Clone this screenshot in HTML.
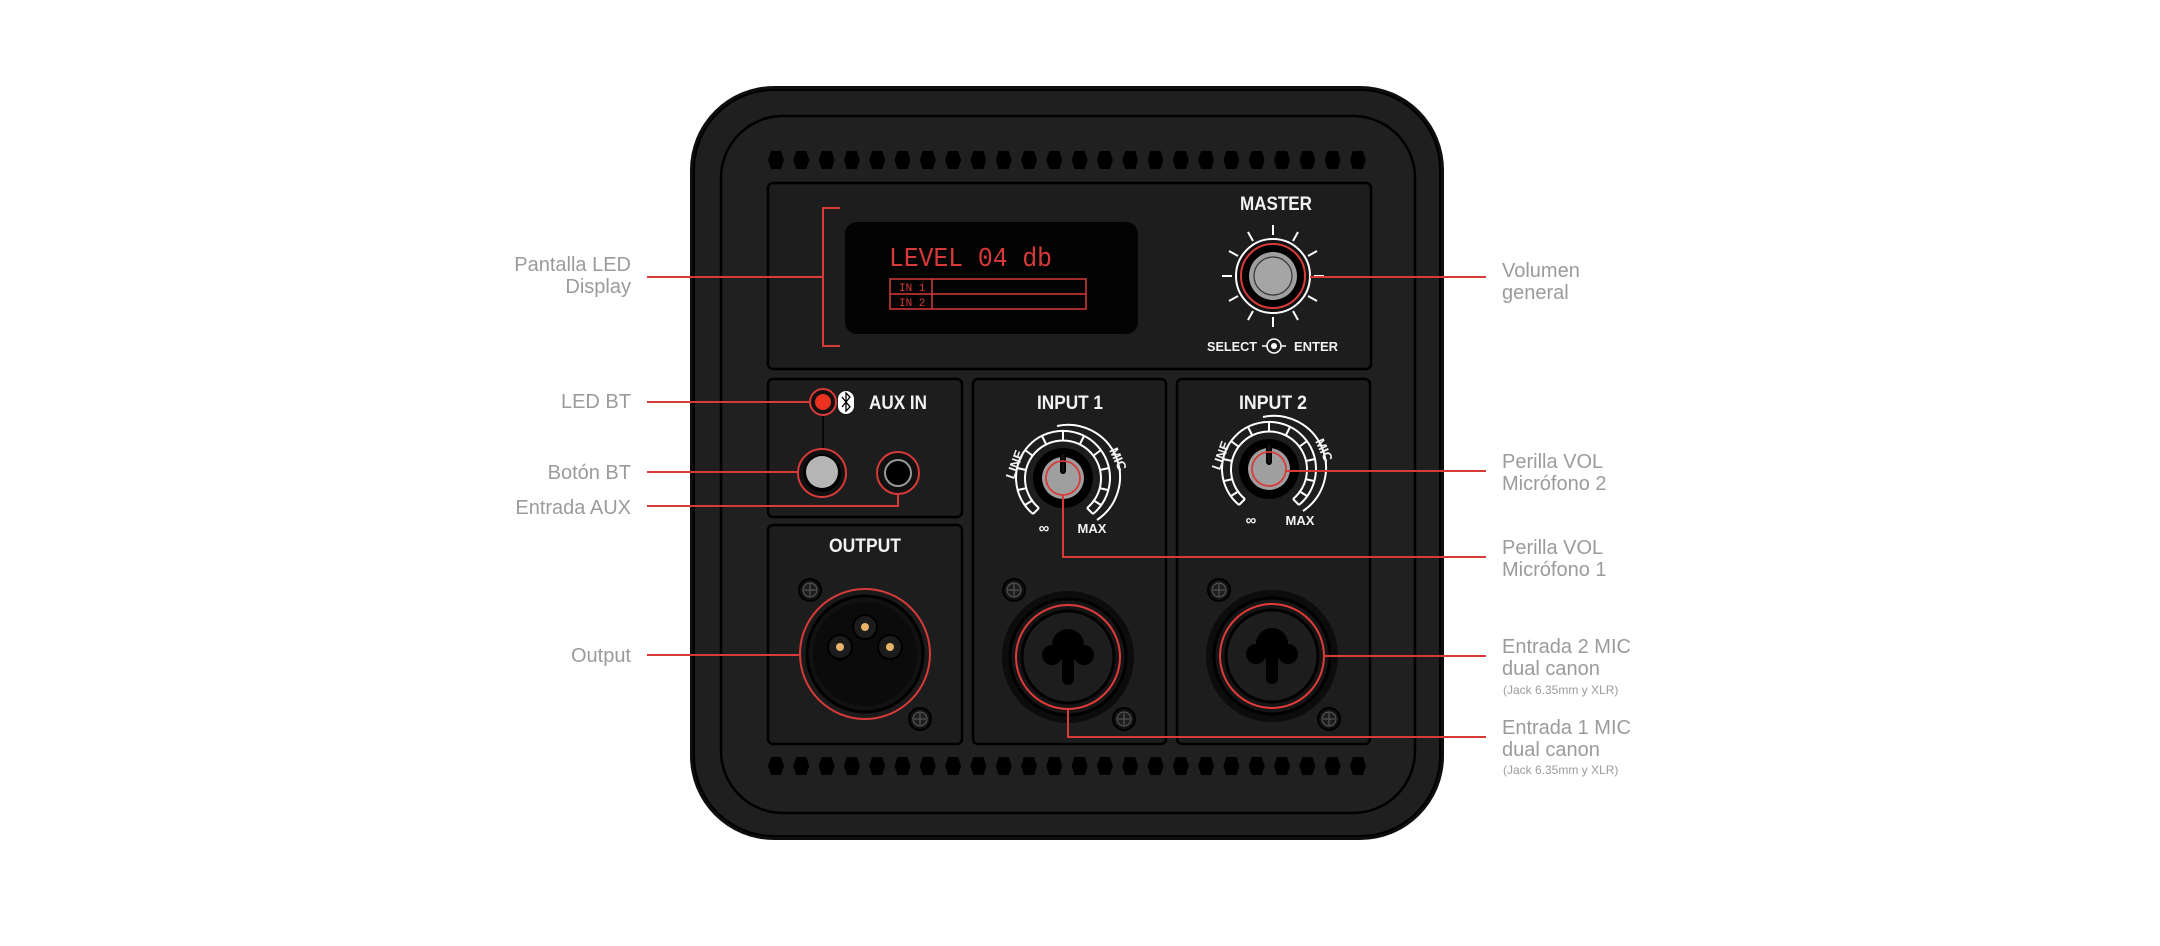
<!DOCTYPE html>
<html><head><meta charset="utf-8"><style>
html,body{margin:0;padding:0;background:#fff;}
svg{display:block;}
.lbl{font-family:"Liberation Sans",sans-serif;font-size:20px;fill:#9b9b9b;}
.sm{font-family:"Liberation Sans",sans-serif;font-size:12px;fill:#9b9b9b;}
.w{font-family:"Liberation Sans",sans-serif;font-weight:bold;fill:#f2f2f2;}
</style></head><body>
<svg width="2160" height="946" viewBox="0 0 2160 946" xmlns="http://www.w3.org/2000/svg">
<defs>
<polygon id="hx" points="-8,0 -5,-9 5,-9 8,0 5,9 -5,9" fill="#000"/>
<g id="screw"><circle r="11" fill="#111" stroke="#000" stroke-width="2"/><circle r="7" fill="#1e1e1e" stroke="#555" stroke-width="1.2"/><line x1="-6" y1="0" x2="6" y2="0" stroke="#555" stroke-width="1.2"/><line x1="0" y1="-6" x2="0" y2="6" stroke="#555" stroke-width="1.2"/></g>
<g id="combo"><circle r="66" fill="#0c0c0c"/><circle r="58" fill="#151515" stroke="#000" stroke-width="3"/><circle r="52" fill="none" stroke="#e03a3a" stroke-width="2"/><circle r="46" fill="#1d1d1d" stroke="#000" stroke-width="3"/>
<circle cx="0" cy="-12" r="16" fill="#000"/><circle cx="-16" cy="-2" r="10" fill="#000"/><circle cx="16" cy="-2" r="10" fill="#000"/><rect x="-6" y="-2" width="12" height="30" rx="6" fill="#000"/></g>
<g id="knob">
<path d="M -24 30 A 38 38 0 1 1 24 30" fill="none" stroke="#fff" stroke-width="2"/>
<path d="M -30 36 A 47 47 0 1 1 30 36" fill="none" stroke="#fff" stroke-width="2"/>
<path d="M -6 -52 A 52 52 0 0 1 34 42" fill="none" stroke="#fff" stroke-width="2"/>
<g stroke="#fff" stroke-width="2">
<line x1="-24" y1="30" x2="-30" y2="36"/><line x1="24" y1="30" x2="30" y2="36"/>
<line x1="-37" y1="-8" x2="-46" y2="-10"/><line x1="-30" y1="-22" x2="-38" y2="-28"/><line x1="-17" y1="-34" x2="-21" y2="-42"/><line x1="0" y1="-38" x2="0" y2="-47"/>
<line x1="17" y1="-34" x2="21" y2="-42"/><line x1="30" y1="-22" x2="38" y2="-28"/><line x1="37" y1="-8" x2="46" y2="-10"/><line x1="36" y1="10" x2="45" y2="12"/><line x1="-36" y1="10" x2="-45" y2="12"/><line x1="30" y1="22" x2="38" y2="27"/><line x1="-30" y1="22" x2="-38" y2="27"/>
</g>
<circle r="30" fill="#000"/><circle r="21" fill="#9f9f9f"/><rect x="-3" y="-26" width="6" height="22" rx="3" fill="#000"/><rect x="-1.5" y="-24" width="3" height="18" fill="#111"/>
</g>
</defs>

<rect x="690" y="86" width="754" height="754" rx="84" fill="#0e0e0e"/>
<rect x="694" y="90" width="746" height="746" rx="80" fill="#1f1f1f" stroke="#000" stroke-width="2"/>
<rect x="721" y="116" width="694" height="697" rx="62" fill="#202020" stroke="#000" stroke-width="2.5"/>

<g id="vt">
<use href="#hx" x="776" y="160"/><use href="#hx" x="801.3" y="160"/><use href="#hx" x="826.6" y="160"/><use href="#hx" x="851.9" y="160"/><use href="#hx" x="877.2" y="160"/><use href="#hx" x="902.5" y="160"/><use href="#hx" x="927.8" y="160"/><use href="#hx" x="953.1" y="160"/><use href="#hx" x="978.4" y="160"/><use href="#hx" x="1003.7" y="160"/><use href="#hx" x="1029" y="160"/><use href="#hx" x="1054.3" y="160"/><use href="#hx" x="1079.6" y="160"/><use href="#hx" x="1104.9" y="160"/><use href="#hx" x="1130.2" y="160"/><use href="#hx" x="1155.5" y="160"/><use href="#hx" x="1180.8" y="160"/><use href="#hx" x="1206.1" y="160"/><use href="#hx" x="1231.4" y="160"/><use href="#hx" x="1256.7" y="160"/><use href="#hx" x="1282" y="160"/><use href="#hx" x="1307.3" y="160"/><use href="#hx" x="1332.6" y="160"/><use href="#hx" x="1357.9" y="160"/>
</g>
<use href="#vt" y="606"/>

<g fill="#1d1d1d" stroke="#000" stroke-width="2.5">
<rect x="768" y="183" width="603" height="186" rx="5"/>
<rect x="768" y="379" width="194" height="138" rx="5"/>
<rect x="768" y="525" width="194" height="219" rx="5"/>
<rect x="973" y="379" width="193" height="365" rx="5"/>
<rect x="1177" y="379" width="193" height="365" rx="5"/>
</g>

<rect x="845" y="222" width="293" height="112" rx="12" fill="#030303"/>
<text x="889" y="266" font-family="Liberation Mono,monospace" font-size="27" fill="#d83a3a" textLength="163" lengthAdjust="spacingAndGlyphs">LEVEL 04 db</text>
<g fill="none" stroke="#d83a3a" stroke-width="1.5"><rect x="890" y="279" width="196" height="30"/><line x1="890" y1="294" x2="1086" y2="294"/><line x1="932" y1="279" x2="932" y2="309"/></g>
<text x="899" y="291" font-family="Liberation Mono,monospace" font-size="11" fill="#d83a3a">IN 1</text>
<text x="899" y="306" font-family="Liberation Mono,monospace" font-size="11" fill="#d83a3a">IN 2</text>
<path d="M 840 208 H 823 V 346 H 840" fill="none" stroke="#d83a3a" stroke-width="2"/>

<text x="1276" y="210" class="w" font-size="19" text-anchor="middle" textLength="72" lengthAdjust="spacingAndGlyphs">MASTER</text>
<g stroke="#fff" stroke-width="2">
<line x1="1273" y1="225" x2="1273" y2="235"/><line x1="1273" y1="317" x2="1273" y2="327"/>
<line x1="1222" y1="276" x2="1232" y2="276"/><line x1="1314" y1="276" x2="1324" y2="276"/>
<line x1="1248" y1="232" x2="1253" y2="241"/><line x1="1298" y1="232" x2="1293" y2="241"/>
<line x1="1248" y1="320" x2="1253" y2="311"/><line x1="1298" y1="320" x2="1293" y2="311"/>
<line x1="1229" y1="251" x2="1238" y2="256"/><line x1="1317" y1="251" x2="1308" y2="256"/>
<line x1="1229" y1="301" x2="1238" y2="296"/><line x1="1317" y1="301" x2="1308" y2="296"/>
</g>
<circle cx="1273" cy="276" r="37" fill="#111" stroke="#fff" stroke-width="2"/>
<circle cx="1273" cy="276" r="32" fill="#000" stroke="#d83a3a" stroke-width="2"/>
<circle cx="1273" cy="276" r="24" fill="#9f9f9f"/>
<circle cx="1273" cy="276" r="19" fill="#a5a5a5" stroke="#333" stroke-width="1.2"/>
<text x="1207" y="351" class="w" font-size="13" textLength="50" lengthAdjust="spacingAndGlyphs">SELECT</text>
<line x1="1262" y1="346" x2="1286" y2="346" stroke="#fff" stroke-width="1.5"/>
<circle cx="1274" cy="346" r="7" fill="#1d1d1d" stroke="#fff" stroke-width="1.5"/><circle cx="1274" cy="346" r="3" fill="#fff"/>
<text x="1294" y="351" class="w" font-size="13" textLength="44" lengthAdjust="spacingAndGlyphs">ENTER</text>

<line x1="823" y1="402" x2="823" y2="450" stroke="#000" stroke-width="1.5"/>
<circle cx="823" cy="402" r="13" fill="#111" stroke="#d83a3a" stroke-width="2"/>
<circle cx="823" cy="402" r="8" fill="#e8321f"/>
<rect x="838" y="391" width="16" height="23" rx="8" fill="#fff"/>
<path d="M 842 397 L 850 407 L 846 411 L 846 393 L 850 397 L 842 407" fill="none" stroke="#000" stroke-width="1.3"/>
<text x="869" y="409" class="w" font-size="19" textLength="58" lengthAdjust="spacingAndGlyphs">AUX IN</text>
<circle cx="822" cy="473" r="24" fill="#111" stroke="#d83a3a" stroke-width="2"/>
<circle cx="822" cy="473" r="19" fill="#000"/>
<circle cx="822" cy="472" r="16" fill="#b5b5b5"/>
<circle cx="898" cy="473" r="21" fill="#111" stroke="#d83a3a" stroke-width="2"/>
<circle cx="898" cy="473" r="13" fill="#000" stroke="#999" stroke-width="2"/>
<circle cx="898" cy="473" r="9" fill="#000"/>

<text x="865" y="552" class="w" font-size="19" text-anchor="middle" textLength="72" lengthAdjust="spacingAndGlyphs">OUTPUT</text>
<use href="#screw" x="810" y="590"/><use href="#screw" x="920" y="719"/>
<circle cx="865" cy="654" r="65" fill="#1a1a1a" stroke="#d83a3a" stroke-width="2"/>
<circle cx="865" cy="654" r="58" fill="#111" stroke="#000" stroke-width="3"/>
<circle cx="865" cy="654" r="52" fill="#0b0b0b"/>
<g fill="#1c1c1c" stroke="#000" stroke-width="2"><circle cx="865" cy="627" r="12"/><circle cx="840" cy="647" r="12"/><circle cx="890" cy="647" r="12"/></g>
<g fill="#e8b46a"><circle cx="865" cy="627" r="4"/><circle cx="840" cy="647" r="4"/><circle cx="890" cy="647" r="4"/></g>

<text x="1070" y="409" class="w" font-size="19" text-anchor="middle" textLength="66" lengthAdjust="spacingAndGlyphs">INPUT 1</text>
<use href="#knob" x="1063" y="478"/>
<circle cx="1063" cy="478" r="17" fill="none" stroke="#d83a3a" stroke-width="1.8"/>
<text x="1019" y="466" class="w" font-size="13" transform="rotate(-70 1019 466)" text-anchor="middle">LINE</text>
<text x="1114" y="461" class="w" font-size="13" transform="rotate(65 1114 461)" text-anchor="middle">MIC</text>
<text x="1044" y="533" class="w" font-size="15" text-anchor="middle">∞</text>
<text x="1092" y="533" class="w" font-size="13" text-anchor="middle">MAX</text>
<use href="#screw" x="1014" y="590"/><use href="#screw" x="1124" y="719"/>
<use href="#combo" x="1068" y="657"/>

<text x="1273" y="409" class="w" font-size="19" text-anchor="middle" textLength="68" lengthAdjust="spacingAndGlyphs">INPUT 2</text>
<use href="#knob" x="1269" y="469"/>
<circle cx="1269" cy="469" r="17" fill="none" stroke="#d83a3a" stroke-width="1.8"/>
<text x="1225" y="457" class="w" font-size="13" transform="rotate(-70 1225 457)" text-anchor="middle">LINE</text>
<text x="1320" y="452" class="w" font-size="13" transform="rotate(65 1320 452)" text-anchor="middle">MIC</text>
<text x="1251" y="525" class="w" font-size="15" text-anchor="middle">∞</text>
<text x="1300" y="525" class="w" font-size="13" text-anchor="middle">MAX</text>
<use href="#screw" x="1219" y="590"/><use href="#screw" x="1329" y="719"/>
<use href="#combo" x="1272" y="656"/>

<g fill="none" stroke="#d83a3a" stroke-width="2">
<line x1="647" y1="277" x2="823" y2="277"/>
<line x1="647" y1="402" x2="810" y2="402"/>
<line x1="647" y1="472" x2="798" y2="472"/>
<path d="M 647 506 H 898 V 494"/>
<line x1="647" y1="655" x2="800" y2="655"/>
<line x1="1310" y1="277" x2="1486" y2="277"/>
<line x1="1286" y1="471" x2="1486" y2="471"/>
<path d="M 1063 495 V 557 H 1486"/>
<line x1="1324" y1="656" x2="1486" y2="656"/>
<path d="M 1068 709 V 737 H 1486"/>
</g>

<g class="lbl" text-anchor="end">
<text x="631" y="271">Pantalla LED</text>
<text x="631" y="293">Display</text>
<text x="631" y="408">LED BT</text>
<text x="631" y="479">Botón BT</text>
<text x="631" y="514">Entrada AUX</text>
<text x="631" y="662">Output</text>
</g>
<g class="lbl">
<text x="1502" y="277">Volumen</text>
<text x="1502" y="299">general</text>
<text x="1502" y="468">Perilla VOL</text>
<text x="1502" y="490">Micrófono 2</text>
<text x="1502" y="554">Perilla VOL</text>
<text x="1502" y="576">Micrófono 1</text>
<text x="1502" y="653">Entrada 2 MIC</text>
<text x="1502" y="675">dual canon</text>
<text x="1502" y="734">Entrada 1 MIC</text>
<text x="1502" y="756">dual canon</text>
</g>
<text x="1503" y="694" class="sm">(Jack 6.35mm y XLR)</text>
<text x="1503" y="774" class="sm">(Jack 6.35mm y XLR)</text>
</svg>
</body></html>
